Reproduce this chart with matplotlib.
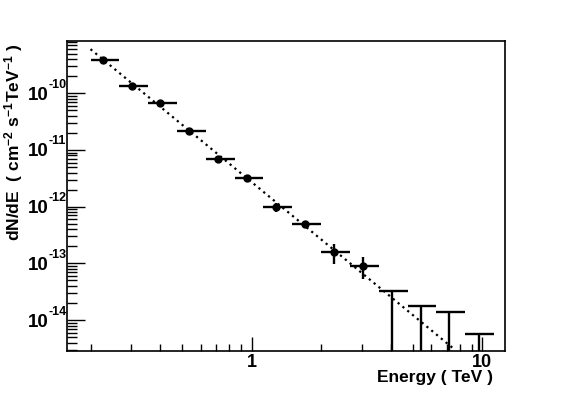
import numpy as np
from matplotlib import pyplot as plt
from matplotlib import transforms

plt.rcParams['font.family'] = ['Liberation Sans', 'DejaVu Sans']
plt.rcParams['font.weight'] = 'bold'
plt.rcParams['mathtext.fontset'] = 'custom'
plt.rcParams['mathtext.rm'] = 'Liberation Sans:bold'
plt.rcParams['mathtext.bf'] = 'Liberation Sans:bold'
plt.rcParams['mathtext.it'] = 'Liberation Sans:bold'
plt.rcParams['mathtext.default'] = 'regular'

# Bin edges in TeV (8 bins per decade)
bin_edges = [0.2, 0.267, 0.356, 0.474, 0.632, 0.843, 1.125, 1.5, 2.0,
             2.67, 3.56, 4.74, 6.32, 8.43, 11.25]

# measured points
energy = [0.227, 0.302, 0.402, 0.537, 0.716, 0.957, 1.28, 1.71, 2.28, 3.05]
flux = [3.82e-10, 1.35e-10, 6.83e-11, 2.19e-11, 6.84e-12, 3.24e-12,
        9.97e-13, 4.88e-13, 1.60e-13, 9.08e-14]
flux_min = [3.6e-10, 1.28e-10, 6.5e-11, 2.08e-11, 6.4e-12, 3.0e-12,
            8.15e-13, 4.15e-13, 9.7e-14, 5.3e-14]
flux_max = [4.05e-10, 1.43e-10, 7.2e-11, 2.3e-11, 7.3e-12, 3.5e-12,
            1.15e-12, 5.65e-13, 2.19e-13, 1.31e-13]

# upper limits
ul_energy = [4.07, 5.42, 7.19, 9.64]
ul_flux = [3.25e-14, 1.79e-14, 1.40e-14, 5.66e-15]

# power law fit, end points
fit_energy = [0.2, 7.6]
fit_flux = [6.0e-10, 3.0e-15]

# y axis decades and their labels
y_decades = [1e-10, 1e-11, 1e-12, 1e-13, 1e-14]
y_exponents = ['-10', '-11', '-12', '-13', '-14']

n = len(energy)
xlo = [energy[i] - bin_edges[i] for i in range(n)]
xhi = [bin_edges[i + 1] - energy[i] for i in range(n)]
ylo = [flux[i] - flux_min[i] for i in range(n)]
yhi = [flux_max[i] - flux[i] for i in range(n)]

m = len(ul_energy)
ulxlo = [ul_energy[i] - bin_edges[n + i] for i in range(m)]
ulxhi = [bin_edges[n + i + 1] - ul_energy[i] for i in range(m)]
ulylo = [ul_flux[i] - 1e-17 for i in range(m)]
ulyhi = [0] * m

fig = plt.figure(figsize=(5.67, 3.94), dpi=100)
ax = fig.add_axes([0.1187, 0.1091, 0.772, 0.7876])

ax.plot(fit_energy, fit_flux, color='black', linewidth=1.6,
        linestyle=(0, (1, 1.8)), zorder=1)
ax.errorbar(energy, flux, xerr=[xlo, xhi], yerr=[ylo, yhi], fmt='o',
            color='black', markersize=5, elinewidth=1.7, capsize=0, zorder=3)
ax.errorbar(ul_energy, ul_flux, xerr=[ulxlo, ulxhi], yerr=[ulylo, ulyhi],
            fmt='none', ecolor='black', elinewidth=1.7, capsize=0, zorder=3)

ax.set_xscale('log')
ax.set_yscale('log')
ax.set_xlim(0.1586, 12.55)
ax.set_ylim(2.84e-15, 8.47e-10)

ax.set_xticks([1, 10])
ax.set_xticklabels(['1', '10'], fontsize=13, fontweight='bold')
ax.set_yticks(y_decades)
ax.set_yticklabels([''] * len(y_decades))
ax.tick_params(axis='both', which='both', direction='in', top=False, right=False)
ax.tick_params(axis='x', which='major', length=10, width=1, pad=2)
ax.tick_params(axis='x', which='minor', length=5, width=1)
ax.tick_params(axis='y', which='major', length=13, width=1)
ax.tick_params(axis='y', which='minor', length=7, width=1)
ax.xaxis.set_minor_formatter(plt.NullFormatter())
ax.yaxis.set_minor_formatter(plt.NullFormatter())
for s in ax.spines.values():
    s.set_linewidth(1.2)

# ROOT style 10^n labels: big base, small raised exponent
ytr = ax.get_yaxis_transform()
base_tr = transforms.offset_copy(ytr, fig=fig, x=0, y=-6.5, units='dots')
exp_tr = transforms.offset_copy(ytr, fig=fig, x=0, y=5.5, units='dots')
for d, ex in zip(y_decades, y_exponents):
    ax.text(-0.043, d, '10', transform=base_tr, fontsize=13.5, fontweight='bold',
            ha='right', va='baseline', clip_on=False)
    ax.text(-0.042, d, ex, transform=exp_tr, fontsize=9, fontweight='bold',
            ha='left', va='baseline', clip_on=False)

ax.set_ylabel(r'dN/dE  ( cm$^{-2}$ s$^{-1}$TeV$^{-1}$ )', fontsize=12.5,
              fontweight='bold', loc='top')
ax.yaxis.set_label_coords(-0.097, 0.99)
fig.text(493 / 567, 1 - 382 / 394, 'Energy ( TeV )', fontsize=12.5,
         fontweight='bold', ha='right', va='baseline')

plt.savefig('out.png', dpi=100)
